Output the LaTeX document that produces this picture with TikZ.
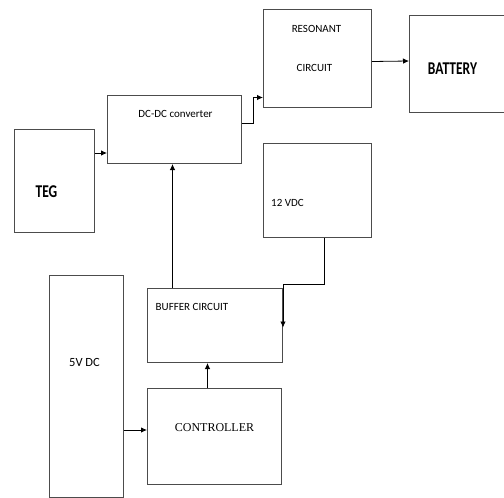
\documentclass[tikz,border=0pt]{standalone}
\usepackage{fontspec}
\setmainfont{Carlito}
\newfontfamily\narrowfont[FakeStretch=0.75]{Carlito}
\newfontfamily\timesfont{Liberation Serif}
\usetikzlibrary{arrows.meta,positioning}

\begin{document}
\begin{tikzpicture}[x=1pt, y=-1pt, font=\fontsize{11}{13}\selectfont,
  box/.style={draw=black!70, line width=1pt, inner sep=0pt, anchor=north west},
  lbl/.style={inner sep=0pt, text=black},
  big/.style={inner sep=0pt, font=\narrowfont\bfseries\fontsize{18}{20}\selectfont},
  flow/.style={-{Latex[length=6pt, width=5.5pt]}, line width=0.8pt}]
\useasboundingbox (0,0) rectangle (504,498);
% blocks
\node[box, minimum width=80pt, minimum height=103pt,
  label={[big, xshift=-8pt, yshift=-10.5pt]center:TEG}] (teg) at (14,129) {};
\node[box, minimum width=134pt, minimum height=68pt,
  label={[lbl, xshift=1pt, yshift=16pt]center:DC-DC converter}] (dcdc) at (107,95) {};
\node[box, minimum width=108pt, minimum height=98pt,
  label={[lbl, xshift=-1pt, yshift=30pt]center:RESONANT},
  label={[lbl, xshift=-3pt, yshift=-9pt]center:CIRCUIT}] (res) at (263,9) {};
\node[box, minimum width=110pt, minimum height=97pt,
  label={[big, xshift=-12pt, yshift=-4.5pt]center:BATTERY}] (bat) at (409,15) {};
\node[box, minimum width=108pt, minimum height=94pt,
  label={[lbl, xshift=-30pt, yshift=-12pt]center:12 VDC}] (vtwelve) at (263,143) {};
\node[box, minimum width=135pt, minimum height=74pt,
  label={[lbl, xshift=-23pt, yshift=19pt]center:BUFFER CIRCUIT}] (buf) at (147,288) {};
\node[box, minimum width=74pt, minimum height=222pt,
  label={[lbl, font=\fontsize{12.5}{14}\selectfont, xshift=-2pt, yshift=24pt]center:5V DC}] (vfive) at (49,275) {};
\node[box, minimum width=134pt, minimum height=96pt,
  label={[lbl, font=\timesfont\fontsize{12}{14}\selectfont, yshift=9pt]center:CONTROLLER}] (ctrl) at (147,388) {};
% connections
\draw[flow] (teg.east |- 0,153) -- (dcdc.west |- 0,153);
\draw[flow] ([yshift=6pt]dcdc.east) -- ++(11,0) |- ([yshift=-39pt]res.west);
\draw[flow] ([yshift=-3pt]res.east) -- (bat.west |- 0,61);
\draw[flow] ([xshift=7pt]vtwelve.south) -- ++(0,46) -| ([yshift=-2pt]buf.east);
\draw[flow] ([xshift=-42.5pt]buf.north) coordinate (up) -- (up |- dcdc.south);
\draw[flow] ([xshift=-7pt]ctrl.north) coordinate (cu) -- (cu |- buf.south);
\draw[flow] (vfive.east |- 0,430) -- (ctrl.west |- 0,430);
\end{tikzpicture}
\end{document}
